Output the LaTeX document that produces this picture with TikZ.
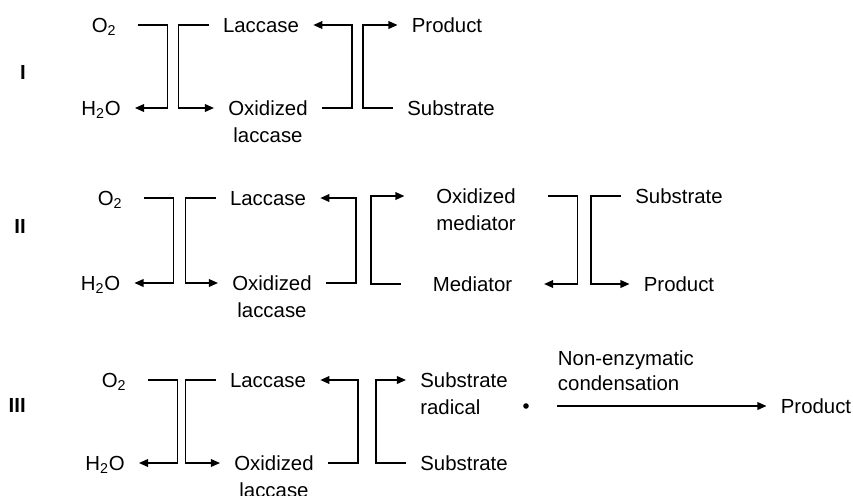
\documentclass[tikz,border=0pt]{standalone}
\usepackage{fontspec}
\setmainfont{Liberation Sans}
\usetikzlibrary{arrows.meta}
\tikzset{
  chem/.style={font=\fontsize{14.5}{17}\selectfont, inner xsep=10pt, inner ysep=0pt, text height=10.5pt, text depth=0pt},
  medbox/.style={chem, inner xsep=22.5pt},
  numeral/.style={chem, font=\fontsize{14.5}{17}\selectfont\bfseries, inner xsep=0pt, anchor=east},
  second/.style={chem, yshift=-8.6pt},
  note/.style={font=\fontsize{14.5}{17.7}\selectfont, align=left, inner sep=0pt},
  rxn/.style={line width=1.1pt, -{Triangle[length=6.5pt,width=5.5pt]}},
}
\begin{document}
\begin{tikzpicture}[x=0.025cm, y=-0.025cm]
        \useasboundingbox (0,0) rectangle (853,495);
        %I
        \node[numeral] (r1)    at (26,72)    {I};
        \node[chem]    (o2a)   at (104,25)   {O\textsubscript{2}};
        \node[chem]    (h2oa)  at (101,108)  {H\textsubscript{2}O};
        \node[chem]    (laca)  at (261,25)   {Laccase};
        \node[chem, label={[second]below:laccase}] (oxla) at (268,108) {Oxidized};
        \node[chem]    (proda) at (447,25)   {Product};
        \node[chem]    (suba)  at (451,108)  {Substrate};
        \draw[rxn] ([xshift=5pt]o2a.east) -- ++(30,0) |- (h2oa.east);   %O2 -> H2O
        \draw[rxn] (laca.west) -- ++(-30,0) |- (oxla.west);             %
        \draw[rxn] (oxla.east) -- ++(30,0)  |- (laca.east);             %
        \draw[rxn] (suba.west) -- ++(-30,0) |- (proda.west);            %
        %II
        \node[numeral] (r2)    at (26,226)   {II};
        \node[chem]    (o2b)   at (110,198)  {O\textsubscript{2}};
        \node[chem]    (h2ob)  at (100.5,283) {H\textsubscript{2}O};
        \node[chem]    (lacb)  at (268,198)  {Laccase};
        \node[chem, label={[second]below:laccase}] (oxlb) at (272,283) {Oxidized};
        \node[medbox, label={[second]below:mediator}] (oxm) at (476,196) {Oxidized};
        \node[medbox]  (med)   at (472.5,284) {Mediator};
        \node[chem]    (subb)  at (679,196)  {Substrate};
        \node[chem]    (prodb) at (679,284)  {Product};
        \draw[rxn] ([xshift=5pt]o2b.east) -- ++(30,0) |- (h2ob.east);   %O2 -> H2O
        \draw[rxn] (lacb.west) -- ++(-30,0) |- (oxlb.west);             %
        \draw[rxn] (oxlb.east) -- ++(30,0)  |- (lacb.east);             %
        \draw[rxn] (med.west)  -- ++(-30,0) |- (oxm.west);              %
        \draw[rxn] (oxm.east)  -- ++(30,0)  |- (med.east);              %
        \draw[rxn] (subb.west) -- ++(-30,0) |- (prodb.west);            %
        %III
        \node[numeral] (r3)    at (26,405)   {III};
        \node[chem]    (o2c)   at (114,380)  {O\textsubscript{2}};
        \node[chem]    (h2oc)  at (105,463)  {H\textsubscript{2}O};
        \node[chem]    (lacc)  at (268,380)  {Laccase};
        \node[chem, label={[second]below:laccase}] (oxlc) at (274,463) {Oxidized};
        \node[chem, label={[second, anchor=north west]south west:radical}] (subr) at (464,380) {Substrate};
        \node[chem]    (subc)  at (464,463)  {Substrate};
        \node[circle, fill, inner sep=1.4pt] (rad) at (526,406) {};
        \node[chem]    (prodc) at (816,406)  {Product};
        \draw[rxn] ([xshift=5pt]o2c.east) -- ++(30,0) |- (h2oc.east);   %O2 -> H2O
        \draw[rxn] (lacc.west) -- ++(-30,0) |- (oxlc.west);             %
        \draw[rxn] (oxlc.east) -- ++(30,0)  |- (lacc.east);             %
        \draw[rxn] (subc.west) -- ++(-30,0) |- (subr.west);             %
        \draw[rxn] ([xshift=20pt]rad.east) -- node[note, pos=0, anchor=south west, yshift=10.6pt] (cond) {Non-enzymatic\\condensation} (prodc.west);
\end{tikzpicture}
\end{document}
